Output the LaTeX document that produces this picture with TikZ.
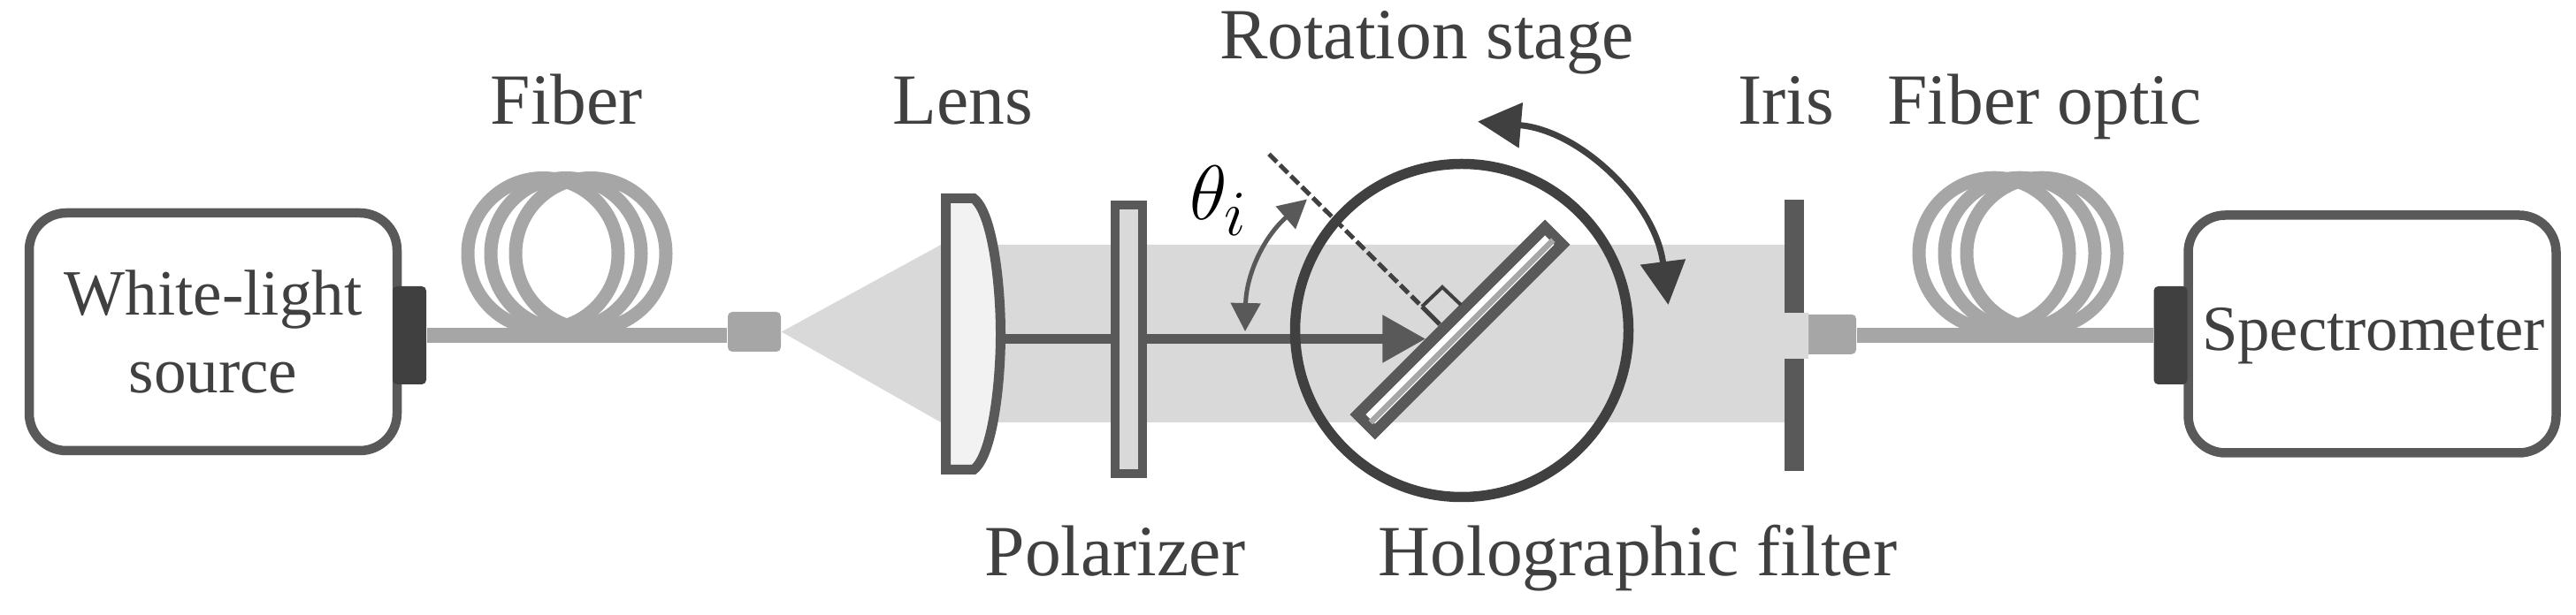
\documentclass[tikz,border=0pt]{standalone}
\usepackage{fontspec}
\setmainfont{Liberation Serif}
\usetikzlibrary{arrows.meta}
\definecolor{inkgray}{HTML}{404040}
\definecolor{edgegray}{HTML}{595959}
\definecolor{fibergray}{HTML}{A6A6A6}
\definecolor{beamgray}{HTML}{D9D9D9}
\tikzset{
  lbl/.style={anchor=base, text=inkgray, inner sep=0pt, font=\fontsize{23.2}{27}\selectfont},
  devbox/.style={draw=edgegray, line width=.105cm, rounded corners=.42cm, align=center, text=inkgray, inner sep=0pt,
    minimum width=4.16cm, minimum height=2.69cm, font=\fontsize{20.8}{25.2}\selectfont},
  portbox/.style={fill=inkgray, rounded corners=.05cm, minimum width=.38cm, minimum height=1.11cm, inner sep=0pt},
  couplerbox/.style={fill=fibergray, rounded corners=.05cm, minimum width=.6cm, minimum height=.45cm, inner sep=0pt},
  fiberline/.style={draw=fibergray, line width=.165cm},
  fiberring/.style={draw=fibergray, line width=.15cm}
}
\begin{document}
\begin{tikzpicture}
\useasboundingbox (0,0) rectangle (29.13,6.96);

\node (coupin) at (8.53,3.205)[couplerbox]{};
\node (coupout) at (20.69,3.177)[couplerbox]{};

% light
\fill[beamgray] (coupin.east)--(10.64,4.19)--(20.18,4.19)--(20.18,3.42)--(20.45,3.42)--(20.45,2.90)--(20.18,2.90)--(20.18,2.18)--(10.64,2.18)--cycle;

% fibers
\foreach \x in {6.14,6.40,6.68} \draw[fiberring] (\x,4.09) ellipse (.85 and .855);
\foreach \x in {22.55,22.84,23.09} \draw[fiberring] (\x,4.093) ellipse (.85 and .855);

% boxes
\node (source) at (2.41,3.205)[devbox]{White-light\\source};
\node (spectro) at (26.825,3.18)[devbox]{};
\node (spectext) at (26.84,2.99)[lbl, font=\fontsize{20.7}{25}\selectfont]{Spectrometer};
\node (portin) at (4.63,3.165)[portbox]{};
\node (portout) at (24.545,3.165)[portbox]{};
\draw[fiberline] (portin.east)--(portin -| coupin.west);
\draw[fiberline] (portout.west)--(portout -| coupout.east);

% lens
\draw[edgegray, line width=.11cm, fill=white!95!black] (10.695,4.715)--(11.01,4.715) .. controls (11.22,4.56) and (11.315,3.76) .. (11.315,3.18) .. controls (11.315,2.60) and (11.22,1.80) .. (11.01,1.645)--(10.695,1.645)--cycle;
\coordinate (lensout) at (11.30,3.125);

% iris
\fill[edgegray] (20.18,4.70) rectangle (20.40,3.42);
\fill[edgegray] (20.18,2.90) rectangle (20.40,1.63);

% stage, filter and ray
\coordinate (hit) at (16.123,3.125);
\draw[-{Triangle[length=.49cm,width=.51cm]}, edgegray, line width=.115cm] (lensout)--(hit);
\node (polar) at (12.765,3.12)[draw=edgegray, fill=beamgray, line width=.10cm, minimum width=.31cm, minimum height=3.04cm, inner sep=0pt]{};
\node (stage) at (16.53,3.22)[circle, draw=inkgray, line width=.115cm, minimum size=3.77cm, inner sep=0pt]{};
\node (filter) at (16.51,3.23)[rotate=45, draw=edgegray, fill=white, line width=.125cm, minimum width=2.995cm, minimum height=.275cm, inner sep=0pt]{};
\fill[fibergray, rotate around={45:(filter.center)}] (15.05,3.17) rectangle (17.97,3.235);

% normal
\coordinate (normtop) at (14.35,5.216);
\coordinate (normfoot) at (16.28,3.29);
\coordinate (normend) at (16.08,3.49);
\draw[inkgray, line width=.05cm, dash pattern=on .125cm off .05cm] (normtop)--(normend);
\draw[inkgray, line width=.05cm] (normend)--(normfoot);
\draw[inkgray, line width=.04cm] (16.08,3.49)--(16.31,3.71)--(16.52,3.51);

% angle and rotation
\node (theta) at (13.78,4.69)[text=black, inner sep=0pt]{\Huge$\theta_i$};
\coordinate (anga) at (14.08,3.21);
\coordinate (angb) at (14.78,4.705);
\draw[{Triangle[length=.32cm,width=.33cm]}-{Triangle[length=.32cm,width=.33cm]}, edgegray, line width=.05cm] (anga) to[bend left=24] (angb);
\coordinate (rota) at (16.71,5.584);
\coordinate (rotb) at (18.865,3.51);
\draw[{Triangle[length=.49cm,width=.5cm]}-{Triangle[length=.49cm,width=.5cm]}, inkgray, line width=.07cm] (rota) to[bend left=39] (rotb);

% labels
\node (fibin) at (6.41,5.55)[lbl]{Fiber};
\node (lens) at (10.89,5.55)[lbl]{Lens};
\node (rotstage) at (16.135,6.29)[lbl]{Rotation stage};
\node (polarlbl) at (12.61,.44)[lbl]{Polarizer};
\node (filterlbl) at (18.52,.44)[lbl]{Holographic filter};
\node (iris) at (20.20,5.55)[lbl]{Iris};
\node (fibout) at (23.12,5.55)[lbl]{Fiber optic};
\end{tikzpicture}
\end{document}
